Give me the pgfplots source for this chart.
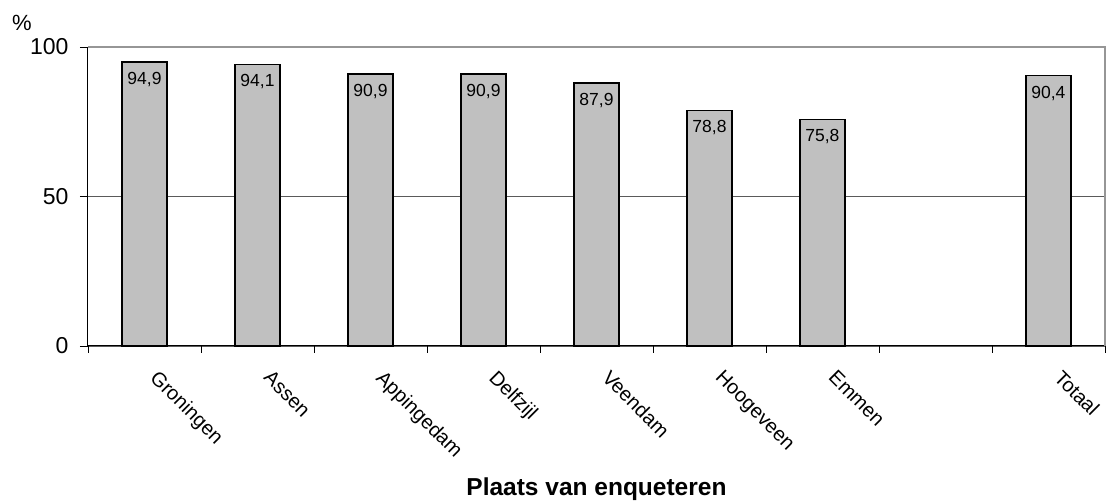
\documentclass[border=0pt]{standalone}
\usepackage{fontspec}
\setmainfont{Liberation Sans}
\usepackage{pgfplots}
\pgfplotsset{compat=1.18}
\definecolor{barfill}{RGB}{192,192,192}
\definecolor{topframe}{RGB}{150,150,150}
\definecolor{gridgray}{RGB}{90,90,90}

\begin{document}
\begin{tikzpicture}
\begin{axis}[
    scale only axis,
    width=1017pt, height=299pt,
    clip=false,
    ybar, bar width=45pt,
    xmin=-0.5, xmax=8.5, ymin=0, ymax=100,
    axis x line*=bottom, axis y line*=left,
    axis line style={-, black, line width=1pt},
    /pgf/number format/assume math mode=true,
    xtick={0,...,8},
    xticklabels={Groningen,Assen,Appingedam,Delfzijl,Veendam,Hoogeveen,Emmen,,Totaal},
    major x tick style={draw=none},
    minor xtick={-0.5,0.5,...,8.5},
    minor tick length=7pt,
    ytick={0,50,100},
    major tick length=8pt,
    tick align=outside,
    tick style={black, line width=0.8pt},
    ymajorgrids,
    grid style={gridgray, line width=0.7pt},
    yticklabel style={font=\fontsize{23}{26}\selectfont, xshift=-8pt},
    xticklabel style={xshift=15pt, yshift=-10pt, rotate=-45, anchor=north west,
                      font=\fontsize{20}{23}\selectfont},
    xlabel={Plaats van enqueteren},
    xlabel style={at={(axis description cs:0.5,0)}, anchor=center, yshift=-143pt,
                  font=\bfseries\fontsize{24.5}{27}\selectfont},
    nodes near coords={\pgfmathprintnumber[fixed,fixed zerofill,precision=1,use comma]{\pgfplotspointmeta}},
    nodes near coords align={below},
    nodes near coords style={font=\fontsize{17.5}{20}\selectfont, black, yshift=-6pt},
]
\addplot[draw=black, line width=1.6pt, fill=barfill]
    coordinates {(0,94.9) (1,94.1) (2,90.9) (3,90.9) (4,87.9) (5,78.8) (6,75.8) (8,90.4)};
\draw[topframe, line width=1.6pt] (rel axis cs:0,1) -- (rel axis cs:1,1) -- (rel axis cs:1,0);
\node[font=\fontsize{22}{24}\selectfont] at (rel axis cs:0,1) [xshift=-66pt, yshift=24pt] {\%};
\end{axis}
\pgfresetboundingbox
\path[use as bounding box] (-88pt,-156pt) rectangle (1018pt,346pt);
\end{tikzpicture}
\end{document}
